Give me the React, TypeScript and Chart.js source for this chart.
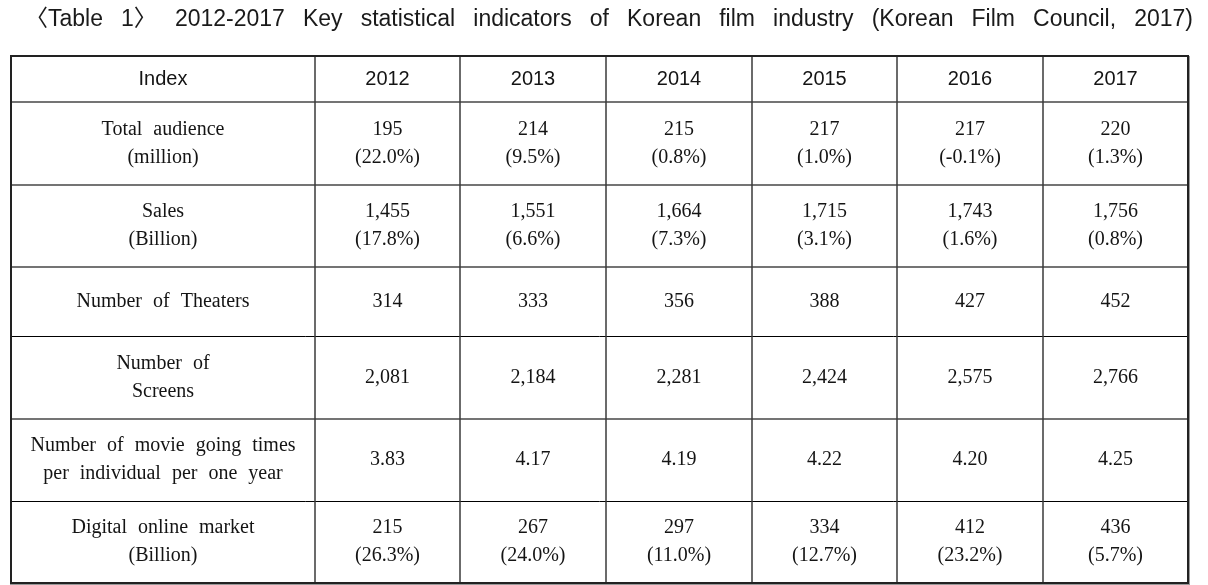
import React, { useEffect, useRef } from "react";
import { Chart, registerables } from "chart.js";

Chart.register(...registerables);

// ---------- data ----------
const TITLE = "〈Table 1〉 2012-2017 Key statistical indicators of Korean film industry (Korean Film Council, 2017)";
const HEADER_LABEL = "Index";
const YEARS = ["2012", "2013", "2014", "2015", "2016", "2017"];
const INDICATORS = [
  ["Total audience", "(million)"],
  ["Sales", "(Billion)"],
  ["Number of Theaters"],
  ["Number of", "Screens"],
  ["Number of movie going times", "per individual per one year"],
  ["Digital online market", "(Billion)"],
];
const totalAudience = [195, 214, 215, 217, 217, 220];
const totalAudienceGrowth = [22.0, 9.5, 0.8, 1.0, -0.1, 1.3];
const sales = [1455, 1551, 1664, 1715, 1743, 1756];
const salesGrowth = [17.8, 6.6, 7.3, 3.1, 1.6, 0.8];
const theaters = [314, 333, 356, 388, 427, 452];
const screens = [2081, 2184, 2281, 2424, 2575, 2766];
const moviegoingPerCapita = [3.83, 4.17, 4.19, 4.22, 4.2, 4.25];
const digitalMarket = [215, 267, 297, 334, 412, 436];
const digitalGrowth = [26.3, 24.0, 11.0, 12.7, 23.2, 5.7];

// ---------- layout (not data) ----------
const COL_WIDTHS = [304, 145, 146, 146, 145, 146, 145];
const ROW_HEIGHTS = [46, 83, 82, 69, 83, 82, 82];
const ROW_RULES = ["outer", "mid", "mid", "mid", "thin", "mid", "thin", "outer"];
const LINE_GAP = 28;

const fmtInt = (v: number) => v.toLocaleString("en-US");
const fmtPct = (v: number) => `(${v.toFixed(1)}%)`;

const cumulative = (arr: number[]) => {
  const out = [0];
  arr.forEach((v) => out.push(out[out.length - 1] + v));
  return out;
};
const COL_EDGES = cumulative(COL_WIDTHS);
const ROW_EDGES = cumulative(ROW_HEIGHTS);
const colCenter = (c: number) => (COL_EDGES[c] + COL_EDGES[c + 1]) / 2;
const rowCenter = (r: number) => (ROW_EDGES[r] + ROW_EDGES[r + 1]) / 2;

type Cell = { x: number; y: number; lines: string[]; kind: string };

function buildCells(): Cell[] {
  const cells: Cell[] = [];
  cells.push({ x: colCenter(0), y: rowCenter(0), lines: [HEADER_LABEL], kind: "header" });
  YEARS.forEach((yr, i) => cells.push({ x: colCenter(i + 1), y: rowCenter(0), lines: [yr], kind: "header" }));
  INDICATORS.forEach((lab, r) => cells.push({ x: colCenter(0), y: rowCenter(r + 1), lines: lab, kind: "body" }));
  const rows: string[][][] = [
    totalAudience.map((v, i) => [fmtInt(v), fmtPct(totalAudienceGrowth[i])]),
    sales.map((v, i) => [fmtInt(v), fmtPct(salesGrowth[i])]),
    theaters.map((v) => [fmtInt(v)]),
    screens.map((v) => [fmtInt(v)]),
    moviegoingPerCapita.map((v) => [v.toFixed(2)]),
    digitalMarket.map((v, i) => [fmtInt(v), fmtPct(digitalGrowth[i])]),
  ];
  rows.forEach((row, r) =>
    row.forEach((lines, c) => cells.push({ x: colCenter(c + 1), y: rowCenter(r + 1), lines, kind: "body" }))
  );
  return cells;
}

const tablePlugin = {
  id: "tablePlugin",
  beforeDraw(chart: any) {
    const ctx = chart.ctx as any;
    ctx.save();
    ctx.fillStyle = "#ffffff";
    ctx.fillRect(0, 0, chart.width, chart.height);
    // title
    ctx.font = '23px "Liberation Sans", Arial, "Noto Sans CJK KR", sans-serif';
    ctx.fillStyle = "#1a1a1a";
    ctx.textAlign = "left";
    ctx.textBaseline = "middle";
    ctx.wordSpacing = "0px";
    const w = ctx.measureText(TITLE).width;
    const spaces = (TITLE.match(/ /g) || []).length;
    const target = 1168;
    const ws = Math.max(0, (target - w) / spaces);
    ctx.wordSpacing = `${ws}px`;
    ctx.fillText(TITLE, 25, 20);
    ctx.restore();
  },
  beforeDatasetsDraw(chart: any) {
    const ctx = chart.ctx;
    const xs = chart.scales.x;
    const ys = chart.scales.y;
    const L = Math.round(xs.getPixelForValue(COL_EDGES[0]));
    const R = Math.round(xs.getPixelForValue(COL_EDGES[COL_EDGES.length - 1]));
    const T = Math.round(ys.getPixelForValue(ROW_EDGES[0]));
    const B = Math.round(ys.getPixelForValue(ROW_EDGES[ROW_EDGES.length - 1]));
    ctx.save();
    // interior horizontal rules
    ROW_EDGES.forEach((e, i) => {
      const y = Math.round(ys.getPixelForValue(e));
      const rule = ROW_RULES[i];
      if (rule === "outer") return;
      ctx.beginPath();
      if (rule === "mid") {
        ctx.strokeStyle = "#747474";
        ctx.lineWidth = 2;
        ctx.moveTo(L, y);
        ctx.lineTo(R, y);
      } else {
        ctx.strokeStyle = "#000000";
        ctx.lineWidth = 1;
        ctx.moveTo(L, y + 0.5);
        ctx.lineTo(R, y + 0.5);
      }
      ctx.stroke();
    });
    // interior vertical rules
    COL_EDGES.forEach((e, i) => {
      if (i === 0 || i === COL_EDGES.length - 1) return;
      const x = Math.round(xs.getPixelForValue(e));
      ctx.beginPath();
      ctx.strokeStyle = "#3a3a3a";
      ctx.lineWidth = 1.5;
      ctx.moveTo(x, T);
      ctx.lineTo(x, B);
      ctx.stroke();
    });
    // outer border
    ctx.strokeStyle = "#222222";
    ctx.lineWidth = 2;
    ctx.beginPath();
    ctx.moveTo(L - 1, T);
    ctx.lineTo(R + 1, T);
    ctx.moveTo(L - 1, B);
    ctx.lineTo(R + 1, B);
    ctx.moveTo(L, T);
    ctx.lineTo(L, B);
    ctx.moveTo(R, T);
    ctx.lineTo(R, B);
    ctx.stroke();
    ctx.strokeStyle = "#9a9a9a";
    ctx.lineWidth = 1;
    ctx.beginPath();
    ctx.moveTo(R + 1.5, T);
    ctx.lineTo(R + 1.5, B + 1);
    ctx.moveTo(L - 1, B + 1.5);
    ctx.lineTo(R + 2, B + 1.5);
    ctx.stroke();
    ctx.restore();
  },
  afterDatasetsDraw(chart: any) {
    const ctx = chart.ctx as any;
    const meta = chart.getDatasetMeta(0);
    const data = chart.data.datasets[0].data as Cell[];
    ctx.save();
    ctx.textAlign = "center";
    ctx.textBaseline = "middle";
    ctx.fillStyle = "#141414";
    meta.data.forEach((el: any, i: number) => {
      const cell = data[i];
      if (cell.kind === "header") {
        ctx.font = '20px "Liberation Sans", Arial, sans-serif';
        ctx.wordSpacing = "0px";
      } else {
        ctx.font = '20px "Liberation Serif", "Times New Roman", serif';
        ctx.wordSpacing = "6px";
      }
      const n = cell.lines.length;
      cell.lines.forEach((line, k) => {
        ctx.fillText(line, el.x, el.y + (k - (n - 1) / 2) * LINE_GAP);
      });
    });
    ctx.restore();
  },
};

export default function App() {
  const canvasRef = useRef<HTMLCanvasElement | null>(null);
  useEffect(() => {
    if (!canvasRef.current) return;
    const chart = new Chart(canvasRef.current, {
      type: "scatter",
      data: {
        datasets: [
          {
            label: "cells",
            data: buildCells() as any,
            pointRadius: 0,
            pointHoverRadius: 0,
            showLine: false,
          },
        ],
      },
      options: {
        animation: false,
        responsive: true,
        maintainAspectRatio: false,
        events: [],
        layout: { padding: { left: 11, right: 20, top: 56, bottom: 2 } },
        plugins: {
          legend: { display: false },
          tooltip: { enabled: false },
          title: { display: false },
        },
        scales: {
          x: { type: "linear", min: 0, max: COL_EDGES[COL_EDGES.length - 1], display: false },
          y: { type: "linear", min: 0, max: ROW_EDGES[ROW_EDGES.length - 1], reverse: true, display: false },
        },
      },
      plugins: [tablePlugin],
    });
    return () => chart.destroy();
  }, []);
  return (
    <div style={{ position: "absolute", left: 0, top: 0, width: 1208, height: 585, background: "#fff" }}>
      <canvas ref={canvasRef} />
    </div>
  );
}
